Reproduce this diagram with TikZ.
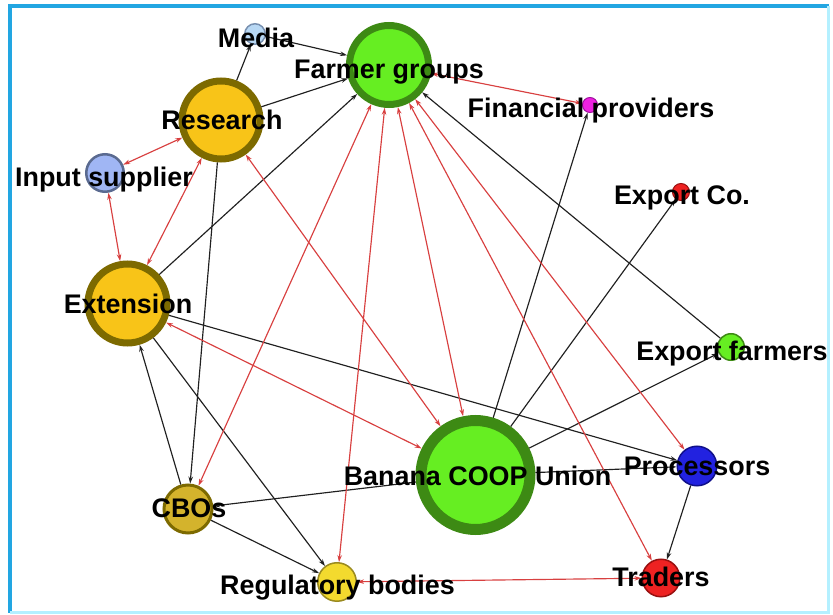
\documentclass[tikz,border=0pt]{standalone}
\usepackage{fontspec}
\setmainfont{Liberation Sans}
\usetikzlibrary{arrows.meta}

\definecolor{limefill}{HTML}{66EE22}
\definecolor{limeedge}{HTML}{3D8A14}
\definecolor{goldfill}{HTML}{F8C418}
\definecolor{goldedge}{HTML}{7D6A00}
\definecolor{mustard}{HTML}{D4B32C}
\definecolor{regfill}{HTML}{F3DA2E}
\definecolor{regedge}{HTML}{9A8A20}
\definecolor{inpfill}{HTML}{A0B6F4}
\definecolor{inpedge}{HTML}{5A6A90}
\definecolor{mediafill}{HTML}{B8D8F4}
\definecolor{mediaedge}{HTML}{7890B0}
\definecolor{finfill}{HTML}{EE22E0}
\definecolor{finedge}{HTML}{A010A0}
\definecolor{redfill}{HTML}{EE2222}
\definecolor{rededge}{HTML}{981010}
\definecolor{procfill}{HTML}{2222E0}
\definecolor{procedge}{HTML}{10108A}
\definecolor{linkred}{HTML}{D84040}
\definecolor{linkblack}{HTML}{202020}
\definecolor{frameblue}{HTML}{22A6E2}
\definecolor{framecyan}{HTML}{B4F0FF}

\tikzset{
  actor/.style={circle,inner sep=0pt},
  nodetext/.style={anchor=base,inner sep=0pt,font=\fontsize{7.65}{9}\selectfont\bfseries},
  blacklink/.style={draw=linkblack,line width=0.33pt,-{Stealth[length=0.7mm,width=0.45mm]}},
  redlink/.style={draw=linkred,line width=0.33pt,{Stealth[length=0.7mm,width=0.45mm]}-{Stealth[length=0.7mm,width=0.45mm]}}
}

\begin{document}
\begin{tikzpicture}
\useasboundingbox (0,0) rectangle (8.33,-6.15);
\draw[frameblue, line width=0.35mm] (0.10,-6.13) -- (0.10,-0.06) -- (8.29,-0.06);
\draw[framecyan, line width=0.3mm] (8.29,-0.06) -- (8.29,-6.13) -- (0.10,-6.13);

% actors
\node[actor, fill=limefill, draw=limeedge, line width=0.7mm, minimum size=7.9mm] (fg) at (3.89,-0.65) {};
\node[actor, fill=limefill, draw=limeedge, line width=1.1mm, minimum size=10.9mm] (coop) at (4.755,-4.75) {};
\node[actor, fill=goldfill, draw=goldedge, line width=0.7mm, minimum size=7.8mm] (res) at (2.21,-1.20) {};
\node[actor, fill=goldfill, draw=goldedge, line width=0.7mm, minimum size=7.9mm] (ext) at (1.275,-3.035) {};
\node[actor, fill=inpfill, draw=inpedge, line width=0.25mm, minimum size=3.75mm] (inp) at (1.05,-1.73) {};
\node[actor, fill=mediafill, draw=mediaedge, line width=0.15mm, minimum size=2.05mm] (media) at (2.55,-0.34) {};
\node[actor, fill=mustard, draw=goldedge, line width=0.3mm, minimum size=4.8mm] (cbo) at (1.88,-5.09) {};
\node[actor, fill=regfill, draw=regedge, line width=0.15mm, minimum size=3.85mm] (reg) at (3.37,-5.82) {};
\node[actor, fill=redfill, draw=rededge, line width=0.15mm, minimum size=3.75mm] (trad) at (6.61,-5.78) {};
\node[actor, fill=procfill, draw=procedge, line width=0.15mm, minimum size=3.95mm] (proc) at (6.97,-4.66) {};
\node[actor, fill=limefill, draw=limeedge, line width=0.15mm, minimum size=2.65mm] (expf) at (7.31,-3.47) {};
\node[actor, fill=redfill, draw=rededge, line width=0.1mm, minimum size=1.7mm] (expc) at (6.81,-1.92) {};
\node[actor, fill=finfill, draw=finedge, line width=0.1mm, minimum size=1.5mm] (fin) at (5.90,-1.05) {};

% one-way ties
\draw[blacklink] (media) -- (fg);
\draw[blacklink] (res) -- (media);
\draw[blacklink] (res) -- (fg);
\draw[blacklink] (ext) -- (fg);
\draw[blacklink] (res) -- (cbo);
\draw[blacklink] (cbo) -- (ext);
\draw[blacklink] (ext) -- (reg);
\draw[blacklink] (cbo) -- (reg);
\draw[blacklink] (coop) -- (cbo);
\draw[blacklink] (ext) -- (proc);
\draw[blacklink] (coop) -- (fin);
\draw[blacklink] (coop) -- (expc);
\draw[blacklink] (coop) -- (expf);
\draw[blacklink] (expf) -- (fg);
\draw[blacklink] (coop) -- (proc);
\draw[blacklink] (proc) -- (trad);

% two-way ties
\draw[redlink] (res) -- (inp);
\draw[redlink] (inp) -- (ext);
\draw[redlink] (res) -- (ext);
\draw[redlink] (res) -- (coop);
\draw[redlink] (ext) -- (coop);
\draw[redlink] (fg) -- (cbo);
\draw[redlink] (fg) -- (reg);
\draw[redlink] (fg) -- (coop);
\draw[redlink] (fg) -- (trad);
\draw[redlink] (fg) -- (proc);
\draw[redlink] (fg) -- (fin);
\draw[redlink] (reg) -- (trad);

% labels
\node[nodetext] (fg-t) at (3.89,-0.79) {Farmer groups};
\node[nodetext] (coop-t) at (4.775,-4.86) {Banana COOP Union};
\node[nodetext] (res-t) at (2.22,-1.30) {Research};
\node[nodetext] (ext-t) at (1.28,-3.14) {Extension};
\node[nodetext] (inp-t) at (1.04,-1.87) {Input supplier};
\node[nodetext] (media-t) at (2.56,-0.48) {Media};
\node[nodetext] (cbo-t) at (1.89,-5.18) {CBOs};
\node[nodetext] (reg-t) at (3.375,-5.95) {Regulatory bodies};
\node[nodetext] (trad-t) at (6.61,-5.87) {Traders};
\node[nodetext] (proc-t) at (6.97,-4.76) {Processors};
\node[nodetext] (expf-t) at (7.32,-3.61) {Export farmers};
\node[nodetext] (expc-t) at (6.82,-2.05) {Export Co.};
\node[nodetext] (fin-t) at (5.91,-1.18) {Financial providers};
\end{tikzpicture}
\end{document}
